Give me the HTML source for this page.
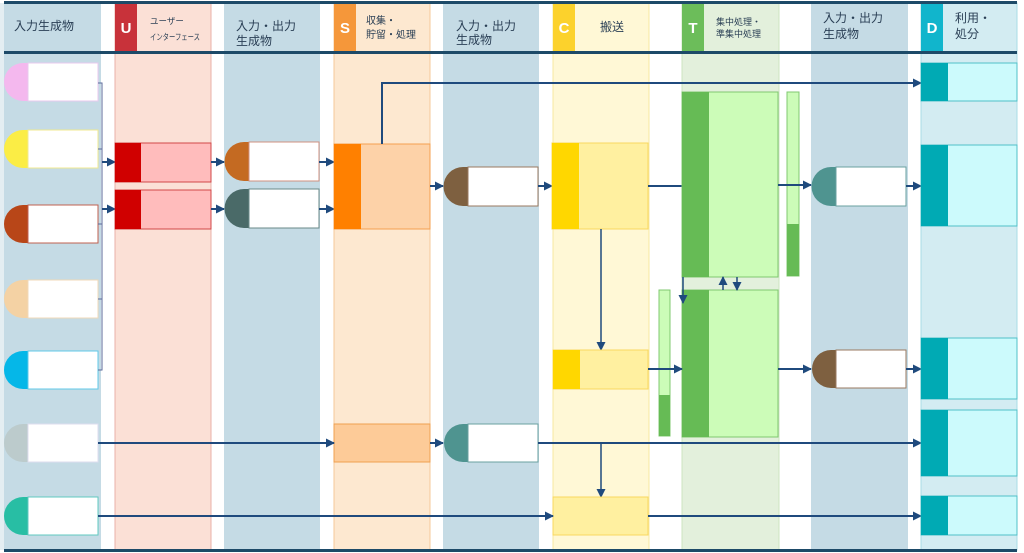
<!DOCTYPE html>
<html><head><meta charset="utf-8"><style>
html,body{margin:0;padding:0;background:#fff;}
svg{display:block;font-family:"Liberation Sans","Noto Sans CJK JP",sans-serif;}
</style></head><body>
<svg width="1024" height="553" viewBox="0 0 1024 553" xmlns="http://www.w3.org/2000/svg">
<defs>
<marker id="a" markerWidth="9" markerHeight="9" refX="8" refY="4.5" orient="auto" markerUnits="userSpaceOnUse"><path d="M0,0 L9,4.5 L0,9 z" fill="#1f4a7d"/></marker>
</defs>
<rect x="0" y="0" width="1024" height="553" fill="#fff"/>
<rect x="0" y="3" width="4" height="547" fill="#e4eef2"/>
<rect x="4" y="3" width="97" height="547" fill="#c5dbe5"/>
<rect x="115" y="3" width="96" height="547" fill="#fbe0d6" stroke="#e8b0a8" stroke-width="1"/>
<rect x="224" y="3" width="96" height="547" fill="#c5dbe5"/>
<rect x="334" y="3" width="96" height="547" fill="#fde8d0" stroke="#f5c89a" stroke-width="1"/>
<rect x="443" y="3" width="96" height="547" fill="#c5dbe5"/>
<rect x="553" y="3" width="96" height="547" fill="#fff8d6" stroke="#f7e8a0" stroke-width="1"/>
<rect x="682" y="3" width="97" height="547" fill="#e3f0dc" stroke="#cce4c0" stroke-width="1"/>
<rect x="811" y="3" width="97" height="547" fill="#c5dbe5"/>
<rect x="921" y="3" width="96" height="547" fill="#d3ecf2" stroke="#a8dce6" stroke-width="1"/>
<rect x="115" y="3" width="22" height="49" fill="#c8323a"/>
<rect x="334" y="3" width="22" height="49" fill="#f5973a"/>
<rect x="553" y="3" width="22" height="49" fill="#fcd22c"/>
<rect x="682" y="3" width="22" height="49" fill="#6cbd5a"/>
<rect x="921" y="3" width="22" height="49" fill="#11b5cc"/>
<g fill="#fff" font-size="15" font-weight="bold" text-anchor="middle">
<text x="126" y="33">U</text><text x="345" y="33">S</text><text x="564" y="33">C</text><text x="693" y="33">T</text><text x="932" y="33">D</text>
</g>
<rect x="4" y="1" width="1013" height="3" fill="#1d4a68"/>
<rect x="4" y="51" width="1013" height="3" fill="#1d4a68"/>
<rect x="4" y="549" width="1013" height="3" fill="#1d4a68"/>
<g fill="#2a3f55" font-size="12">
<text x="14" y="30">入力生成物</text>
<text x="150" y="24" font-size="8.5">ユーザー</text>
<text x="150" y="40" font-size="8.5" textLength="50" lengthAdjust="spacingAndGlyphs">インターフェース</text>
<text x="236" y="30">入力・出力</text><text x="236" y="45">生成物</text>
<text x="366" y="24" font-size="10">収集・</text><text x="366" y="38" font-size="10">貯留・処理</text>
<text x="456" y="30">入力・出力</text><text x="456" y="44">生成物</text>
<text x="600" y="31">搬送</text>
<text x="716" y="25" font-size="9">集中処理・</text><text x="716" y="37" font-size="9">準集中処理</text>
<text x="823" y="22">入力・出力</text><text x="823" y="38">生成物</text>
<text x="955" y="22">利用・</text><text x="955" y="38">処分</text>
</g>
<g stroke-width="1">
<path d="M28,63 h-5 a19,19 0 0 0 0,38 h5z" fill="#f4b8ee"/><rect x="28" y="63" width="70" height="38" fill="#fff" stroke="#e8c8ee"/>
<path d="M28,130 h-5 a19,19 0 0 0 0,38 h5z" fill="#fbed45"/><rect x="28" y="130" width="70" height="38" fill="#fff" stroke="#f0ea90"/>
<path d="M28,205 h-5 a19,19 0 0 0 0,38 h5z" fill="#b84618"/><rect x="28" y="205" width="70" height="38" fill="#fff" stroke="#c06050"/>
<path d="M28,280 h-5 a19,19 0 0 0 0,38 h5z" fill="#f4d2a4"/><rect x="28" y="280" width="70" height="38" fill="#fff" stroke="#f0d8b8"/>
<path d="M28,351 h-5 a19,19 0 0 0 0,38 h5z" fill="#05b7e8"/><rect x="28" y="351" width="70" height="38" fill="#fff" stroke="#60c8e8"/>
<path d="M28,424 h-5 a19,19 0 0 0 0,38 h5z" fill="#bccbcc"/><rect x="28" y="424" width="70" height="38" fill="#fff" stroke="#dde"/>
<path d="M28,497 h-5 a19,19 0 0 0 0,38 h5z" fill="#28bea4"/><rect x="28" y="497" width="70" height="38" fill="#fff" stroke="#60c8c0"/>
</g>
<path d="M98,83 H102 V370 H98 M98,149 H102 M98,224 H102 M98,299 H102" fill="none" stroke="#5a6a9a" stroke-width="1"/>
<line x1="102" y1="162" x2="115" y2="162" stroke="#1f4a7d" stroke-width="2" marker-end="url(#a)"/>
<line x1="102" y1="209" x2="115" y2="209" stroke="#1f4a7d" stroke-width="2" marker-end="url(#a)"/>
<rect x="115" y="143" width="96" height="39" fill="#ffbcbc" stroke="#d04848"/><rect x="115" y="143" width="26" height="39" fill="#d00000"/>
<rect x="115" y="190" width="96" height="39" fill="#ffbcbc" stroke="#d04848"/><rect x="115" y="190" width="26" height="39" fill="#d00000"/>
<line x1="211" y1="162" x2="224" y2="162" stroke="#1f4a7d" stroke-width="2" marker-end="url(#a)"/>
<line x1="211" y1="209" x2="224" y2="209" stroke="#1f4a7d" stroke-width="2" marker-end="url(#a)"/>
<path d="M249,142 h-5 a19.5,19.5 0 0 0 0,39 h5z" fill="#c46a22"/><rect x="249" y="142" width="70" height="39" fill="#fff" stroke="#d09080"/>
<path d="M249,189 h-5 a19.5,19.5 0 0 0 0,39 h5z" fill="#4a6a68"/><rect x="249" y="189" width="70" height="39" fill="#fff" stroke="#6a8a88"/>
<line x1="319" y1="162" x2="334" y2="162" stroke="#1f4a7d" stroke-width="2" marker-end="url(#a)"/>
<line x1="319" y1="209" x2="334" y2="209" stroke="#1f4a7d" stroke-width="2" marker-end="url(#a)"/>
<rect x="334" y="144" width="96" height="85" fill="#fdd2a8" stroke="#f5a050"/><rect x="334" y="144" width="27" height="85" fill="#ff8000"/>
<rect x="334" y="424" width="96" height="38" fill="#fdcb98" stroke="#f0a050"/>
<path d="M382,144 V83 H921" fill="none" stroke="#1f4a7d" stroke-width="2" marker-end="url(#a)"/>
<line x1="430" y1="186" x2="443" y2="186" stroke="#1f4a7d" stroke-width="2" marker-end="url(#a)"/>
<line x1="430" y1="443" x2="443" y2="443" stroke="#1f4a7d" stroke-width="2" marker-end="url(#a)"/>
<line x1="98" y1="443" x2="334" y2="443" stroke="#1f4a7d" stroke-width="2" marker-end="url(#a)"/>
<path d="M468,167 h-5 a19.5,19.5 0 0 0 0,39 h5z" fill="#7e6040"/><rect x="468" y="167" width="70" height="39" fill="#fff" stroke="#9a7a60"/>
<path d="M468,424 h-5 a19,19 0 0 0 0,38 h5z" fill="#4f9490"/><rect x="468" y="424" width="70" height="38" fill="#fff" stroke="#6aa0a0"/>
<line x1="538" y1="186" x2="552" y2="186" stroke="#1f4a7d" stroke-width="2" marker-end="url(#a)"/>
<line x1="538" y1="443" x2="921" y2="443" stroke="#1f4a7d" stroke-width="2" marker-end="url(#a)"/>
<line x1="601" y1="443" x2="601" y2="497" stroke="#1f4a7d" stroke-width="1.5" marker-end="url(#a)"/>
<rect x="552" y="143" width="96" height="86" fill="#fff0a0" stroke="#f8d860"/><rect x="552" y="143" width="27" height="86" fill="#ffd700"/>
<line x1="601" y1="229" x2="601" y2="350" stroke="#1f4a7d" stroke-width="1.5" marker-end="url(#a)"/>
<rect x="553" y="350" width="95" height="39" fill="#fff0a0" stroke="#f8d860"/><rect x="553" y="350" width="27" height="39" fill="#ffd700"/>
<rect x="553" y="497" width="95" height="38" fill="#fff0a0" stroke="#f8d860"/>
<line x1="98" y1="516" x2="553" y2="516" stroke="#1f4a7d" stroke-width="2" marker-end="url(#a)"/>
<line x1="648" y1="516" x2="921" y2="516" stroke="#1f4a7d" stroke-width="2" marker-end="url(#a)"/>
<line x1="648" y1="186" x2="682" y2="186" stroke="#1f4a7d" stroke-width="2"/>
<rect x="682" y="92" width="96" height="185" fill="#ccfcb8" stroke="#80c870"/><rect x="682" y="92" width="27" height="185" fill="#66bb55"/>
<rect x="682" y="290" width="96" height="147" fill="#ccfcb8" stroke="#80c870"/><rect x="682" y="290" width="27" height="147" fill="#66bb55"/>
<rect x="787" y="92" width="12" height="184" fill="#ccfcb8" stroke="#80c870"/><rect x="787" y="224" width="12" height="52" fill="#66bb55"/>
<rect x="659" y="290" width="11" height="146" fill="#ccfcb8" stroke="#80c870"/><rect x="659" y="395" width="11" height="41" fill="#66bb55"/>
<line x1="723" y1="290" x2="723" y2="277" stroke="#1f4a7d" stroke-width="1.5" marker-end="url(#a)"/>
<line x1="737" y1="277" x2="737" y2="290" stroke="#1f4a7d" stroke-width="1.5" marker-end="url(#a)"/>
<line x1="683" y1="277" x2="683" y2="303" stroke="#1f4a7d" stroke-width="1.5" marker-end="url(#a)"/>
<line x1="648" y1="369" x2="682" y2="369" stroke="#1f4a7d" stroke-width="2" marker-end="url(#a)"/>
<line x1="778" y1="185" x2="811" y2="185" stroke="#1f4a7d" stroke-width="2" marker-end="url(#a)"/>
<line x1="778" y1="369" x2="811" y2="369" stroke="#1f4a7d" stroke-width="2" marker-end="url(#a)"/>
<path d="M836,167 h-5 a19.5,19.5 0 0 0 0,39 h5z" fill="#4f9490"/><rect x="836" y="167" width="70" height="39" fill="#fff" stroke="#6aa0a0"/>
<path d="M836,350 h-5 a19,19 0 0 0 0,38 h5z" fill="#7e6040"/><rect x="836" y="350" width="70" height="38" fill="#fff" stroke="#9a7a60"/>
<line x1="906" y1="186" x2="921" y2="186" stroke="#1f4a7d" stroke-width="2" marker-end="url(#a)"/>
<line x1="906" y1="369" x2="921" y2="369" stroke="#1f4a7d" stroke-width="2" marker-end="url(#a)"/>
<g stroke="#50c0c8">
<rect x="921" y="63" width="96" height="38" fill="#ccfafc"/><rect x="921" y="145" width="96" height="81" fill="#ccfafc"/>
<rect x="921" y="338" width="96" height="61" fill="#ccfafc"/><rect x="921" y="410" width="96" height="66" fill="#ccfafc"/>
<rect x="921" y="496" width="96" height="39" fill="#ccfafc"/>
</g>
<g fill="#00aab4">
<rect x="921" y="63" width="27" height="38"/><rect x="921" y="145" width="27" height="81"/>
<rect x="921" y="338" width="27" height="61"/><rect x="921" y="410" width="27" height="66"/>
<rect x="921" y="496" width="27" height="39"/>
</g>
</svg>
</body></html>
